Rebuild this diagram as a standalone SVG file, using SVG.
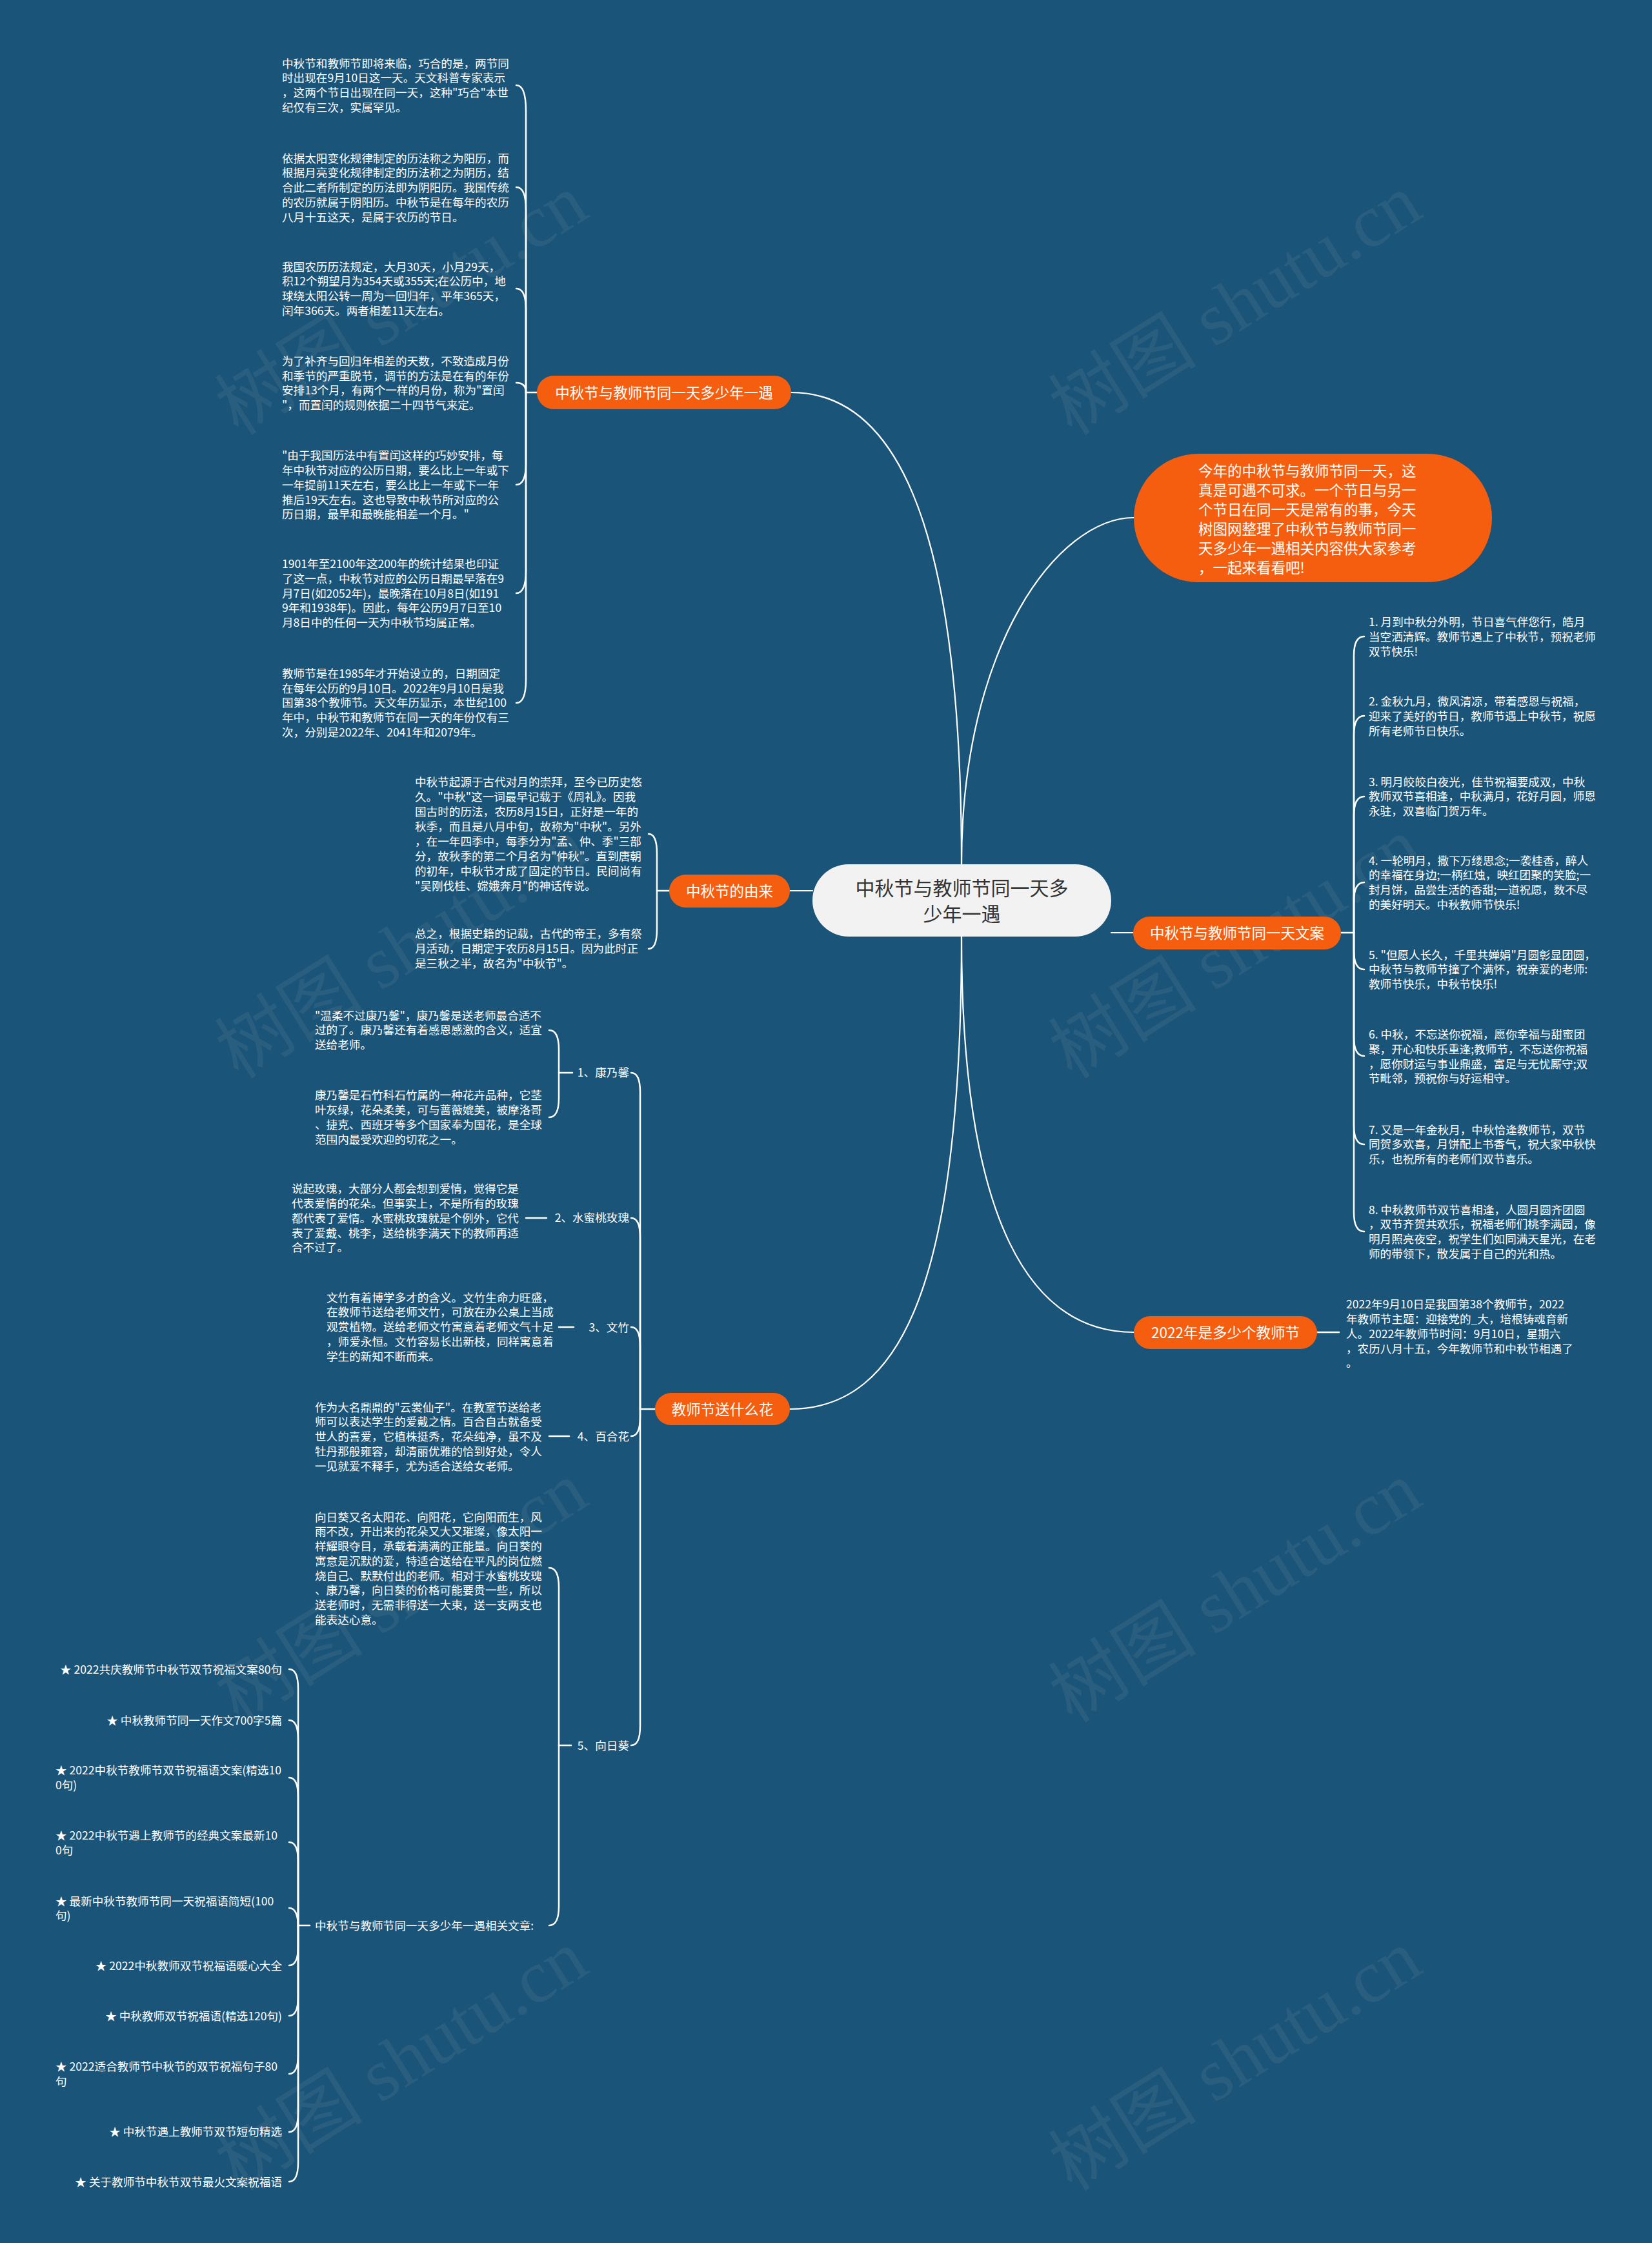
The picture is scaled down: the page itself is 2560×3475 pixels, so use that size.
<svg xmlns="http://www.w3.org/2000/svg" width="2560" height="3475" viewBox="0 0 2560 3475">
<style>
.t{font-family:"Noto Sans CJK SC","Noto Sans",sans-serif;font-size:17.6px;fill:#ffffff}
.e{text-anchor:end}
.nt{font-family:"Noto Sans CJK SC","Noto Sans",sans-serif;font-size:22.5px;fill:#ffffff;text-anchor:middle}
.bt{font-family:"Noto Sans CJK SC","Noto Sans",sans-serif;font-size:22.5px;fill:#ffffff}
.ct{font-family:"Noto Sans CJK SC","Noto Sans",sans-serif;font-size:30px;fill:#333333;text-anchor:middle}
.node{fill:#f55e0e}
.center{fill:#f2f2f2}
.edge{fill:none;stroke:#ffffff;stroke-width:2.5;stroke-linecap:round}
.main{fill:none;stroke:#ffffff;stroke-width:2.2;stroke-linecap:round}
.wm{font-family:"Liberation Serif","Noto Sans CJK SC",serif;font-size:115px;fill:#c0c0c0;opacity:0.09;text-anchor:middle}
</style>
<rect x="0" y="0" width="2560" height="3475" fill="#1b5479"/>

<g id="watermarks">
<text class="wm" transform="translate(643,505) rotate(-32)">树图 shutu.cn</text>
<text class="wm" transform="translate(1935,505) rotate(-32)">树图 shutu.cn</text>
<text class="wm" transform="translate(643,1502) rotate(-32)">树图 shutu.cn</text>
<text class="wm" transform="translate(1935,1502) rotate(-32)">树图 shutu.cn</text>
<text class="wm" transform="translate(643,2500) rotate(-32)">树图 shutu.cn</text>
<text class="wm" transform="translate(1935,2500) rotate(-32)">树图 shutu.cn</text>
<text class="wm" transform="translate(643,3225) rotate(-32)">树图 shutu.cn</text>
<text class="wm" transform="translate(1935,3225) rotate(-32)">树图 shutu.cn</text>
</g>

<g id="connectors">
<path class="main" d="M1226,608 C1420,608 1490,900 1490,1339"/>
<path class="main" d="M1757,802 C1640,802 1490,1000 1490,1339"/>
<path class="main" d="M1224,1380 H1259"/>
<path class="main" d="M1722,1445 H1756"/>
<path class="main" d="M1490,1451 C1490,1900 1600,2064 1757,2064"/>
<path class="main" d="M1490,1451 C1490,1980 1400,2183 1224,2183"/>
<path class="edge" d="M2041,2064 H2075"/>
<path class="edge" d="M832,608 H815"/>
<path class="edge" d="M815,608 V172 Q815,132 800,132"/>
<path class="edge" d="M815,608 V325 Q815,290 800,290"/>
<path class="edge" d="M815,608 V480 Q815,447 800,447"/>
<path class="edge" d="M815,608 Q815,593 800,593"/>
<path class="edge" d="M815,608 V718 Q815,751 800,751"/>
<path class="edge" d="M815,608 V884 Q815,919 800,919"/>
<path class="edge" d="M815,608 V1053 Q815,1089 800,1089"/>
<path class="edge" d="M1037,1380 H1018"/>
<path class="edge" d="M1018,1380 V1322 Q1018,1292 1005,1292"/>
<path class="edge" d="M1018,1380 V1440 Q1018,1470 1005,1470"/>
<path class="edge" d="M2078,1445 H2098"/>
<path class="edge" d="M2098,1445 V1016 Q2098,986 2114,986"/>
<path class="edge" d="M2098,1445 V1139 Q2098,1109 2114,1109"/>
<path class="edge" d="M2098,1445 V1264 Q2098,1234 2114,1234"/>
<path class="edge" d="M2098,1445 V1397 Q2098,1367 2114,1367"/>
<path class="edge" d="M2098,1445 V1472 Q2098,1502 2114,1502"/>
<path class="edge" d="M2098,1445 V1606 Q2098,1636 2114,1636"/>
<path class="edge" d="M2098,1445 V1743 Q2098,1773 2114,1773"/>
<path class="edge" d="M2098,1445 V1878 Q2098,1908 2114,1908"/>
<path class="edge" d="M1015,2183 H992"/>
<path class="edge" d="M992,2183 V1692 Q992,1662 978,1662"/>
<path class="edge" d="M992,2183 V1917 Q992,1887 978,1887"/>
<path class="edge" d="M992,2183 V2086 Q992,2056 978,2056"/>
<path class="edge" d="M992,2183 V2195 Q992,2225 978,2225"/>
<path class="edge" d="M992,2183 V2674 Q992,2704 978,2704"/>
<path class="edge" d="M887,1662 H866"/>
<path class="edge" d="M866,1662 V1626 Q866,1596 851,1596"/>
<path class="edge" d="M866,1662 V1701 Q866,1731 851,1731"/>
<path class="edge" d="M847,1887 H815"/>
<path class="edge" d="M889,2056 H866"/>
<path class="edge" d="M882,2225 H851"/>
<path class="edge" d="M885,2704 H866"/>
<path class="edge" d="M866,2704 V2459 Q866,2429 851,2429"/>
<path class="edge" d="M866,2704 V2953 Q866,2983 851,2983"/>
<path class="edge" d="M480,2983 H462"/>
<path class="edge" d="M462,2983 V2616 Q462,2586 448,2586"/>
<path class="edge" d="M462,2983 V2695 Q462,2665 448,2665"/>
<path class="edge" d="M462,2983 V2784 Q462,2754 448,2754"/>
<path class="edge" d="M462,2983 V2884 Q462,2854 448,2854"/>
<path class="edge" d="M462,2983 V2986 Q462,2956 448,2956"/>
<path class="edge" d="M462,2983 V3015 Q462,3045 448,3045"/>
<path class="edge" d="M462,2983 V3093 Q462,3123 448,3123"/>
<path class="edge" d="M462,2983 V3183 Q462,3213 448,3213"/>
<path class="edge" d="M462,2983 V3273 Q462,3303 448,3303"/>
<path class="edge" d="M462,2983 V3350 Q462,3380 448,3380"/>
</g>

<g id="center">
<rect class="center" x="1259" y="1339" width="463" height="112" rx="56"/>
<text class="ct"><tspan x="1490.5" y="1387">中秋节与教师节同一天多</tspan><tspan x="1490.5" y="1427">少年一遇</tspan></text>
</g>

<g id="node-intro">
<rect class="node" x="1757" y="703" width="555" height="199" rx="99.5"/>
<text class="bt"><tspan x="1857" y="738">今年的中秋节与教师节同一天，这</tspan><tspan x="1857" y="768">真是可遇不可求。一个节日与另一</tspan><tspan x="1857" y="798">个节日在同一天是常有的事，今天</tspan><tspan x="1857" y="828">树图网整理了中秋节与教师节同一</tspan><tspan x="1857" y="858">天多少年一遇相关内容供大家参考</tspan><tspan x="1857" y="888">，一起来看看吧!</tspan></text>
</g>

<g id="node-years">
<rect class="node" x="832" y="582" width="394" height="52" rx="26"/>
<text class="nt" x="1029" y="616.5">中秋节与教师节同一天多少年一遇</text>
</g>
<g id="years-1"><text class="t"><tspan x="437" y="104.6">中秋节和教师节即将来临，巧合的是，两节同</tspan><tspan x="437" y="127.3">时出现在9月10日这一天。天文科普专家表示</tspan><tspan x="437" y="150">，这两个节日出现在同一天，这种"巧合"本世</tspan><tspan x="437" y="172.7">纪仅有三次，实属罕见。</tspan></text></g>
<g id="years-2"><text class="t"><tspan x="437" y="251.7">依据太阳变化规律制定的历法称之为阳历，而</tspan><tspan x="437" y="274.4">根据月亮变化规律制定的历法称之为阴历，结</tspan><tspan x="437" y="297.1">合此二者所制定的历法即为阴阳历。我国传统</tspan><tspan x="437" y="319.8">的农历就属于阴阳历。中秋节是在每年的农历</tspan><tspan x="437" y="342.5">八月十五这天，是属于农历的节日。</tspan></text></g>
<g id="years-3"><text class="t"><tspan x="437" y="419.6">我国农历历法规定，大月30天，小月29天，</tspan><tspan x="437" y="442.3">积12个朔望月为354天或355天;在公历中，地</tspan><tspan x="437" y="465">球绕太阳公转一周为一回归年，平年365天，</tspan><tspan x="437" y="487.7">闰年366天。两者相差11天左右。</tspan></text></g>
<g id="years-4"><text class="t"><tspan x="437" y="566">为了补齐与回归年相差的天数，不致造成月份</tspan><tspan x="437" y="588.7">和季节的严重脱节，调节的方法是在有的年份</tspan><tspan x="437" y="611.4">安排13个月，有两个一样的月份，称为"置闰</tspan><tspan x="437" y="634.1">"，而置闰的规则依据二十四节气来定。</tspan></text></g>
<g id="years-5"><text class="t"><tspan x="437" y="712.4">"由于我国历法中有置闰这样的巧妙安排，每</tspan><tspan x="437" y="735.1">年中秋节对应的公历日期，要么比上一年或下</tspan><tspan x="437" y="757.8">一年提前11天左右，要么比上一年或下一年</tspan><tspan x="437" y="780.5">推后19天左右。这也导致中秋节所对应的公</tspan><tspan x="437" y="803.2">历日期，最早和最晚能相差一个月。"</tspan></text></g>
<g id="years-6"><text class="t"><tspan x="437" y="880.3">1901年至2100年这200年的统计结果也印证</tspan><tspan x="437" y="903">了这一点，中秋节对应的公历日期最早落在9</tspan><tspan x="437" y="925.7">月7日(如2052年)，最晚落在10月8日(如191</tspan><tspan x="437" y="948.4">9年和1938年)。因此，每年公历9月7日至10</tspan><tspan x="437" y="971.1">月8日中的任何一天为中秋节均属正常。</tspan></text></g>
<g id="years-7"><text class="t"><tspan x="437" y="1049.9">教师节是在1985年才开始设立的，日期固定</tspan><tspan x="437" y="1072.6">在每年公历的9月10日。2022年9月10日是我</tspan><tspan x="437" y="1095.3">国第38个教师节。天文年历显示，本世纪100</tspan><tspan x="437" y="1118">年中，中秋节和教师节在同一天的年份仅有三</tspan><tspan x="437" y="1140.7">次，分别是2022年、2041年和2079年。</tspan></text></g>

<g id="node-origin">
<rect class="node" x="1037" y="1355" width="187" height="51" rx="25.5"/>
<text class="nt" x="1130.5" y="1389">中秋节的由来</text>
</g>
<g id="origin-1"><text class="t"><tspan x="643" y="1218.4">中秋节起源于古代对月的崇拜，至今已历史悠</tspan><tspan x="643" y="1241.3">久。"中秋"这一词最早记载于《周礼》。因我</tspan><tspan x="643" y="1264.2">国古时的历法，农历8月15日，正好是一年的</tspan><tspan x="643" y="1287.1">秋季，而且是八月中旬，故称为"中秋"。另外</tspan><tspan x="643" y="1310">，在一年四季中，每季分为"孟、仲、季"三部</tspan><tspan x="643" y="1332.9">分，故秋季的第二个月名为"仲秋"。直到唐朝</tspan><tspan x="643" y="1355.8">的初年，中秋节才成了固定的节日。民间尚有</tspan><tspan x="643" y="1378.7">"吴刚伐桂、嫦娥奔月"的神话传说。</tspan></text></g>
<g id="origin-2"><text class="t"><tspan x="643" y="1453.4">总之，根据史籍的记载，古代的帝王，多有祭</tspan><tspan x="643" y="1476.3">月活动，日期定于农历8月15日。因为此时正</tspan><tspan x="643" y="1499.2">是三秋之半，故名为"中秋节"。</tspan></text></g>

<g id="node-wishes">
<rect class="node" x="1756" y="1420" width="322" height="51" rx="25.5"/>
<text class="nt" x="1917" y="1454">中秋节与教师节同一天文案</text>
</g>
<g id="wish-1"><text class="t"><tspan x="2121" y="970.2">1. 月到中秋分外明，节日喜气伴您行，皓月</tspan><tspan x="2121" y="992.9">当空洒清辉。教师节遇上了中秋节，预祝老师</tspan><tspan x="2121" y="1015.6">双节快乐!</tspan></text></g>
<g id="wish-2"><text class="t"><tspan x="2121" y="1093.2">2. 金秋九月，微风清凉，带着感恩与祝福，</tspan><tspan x="2121" y="1115.9">迎来了美好的节日，教师节遇上中秋节，祝愿</tspan><tspan x="2121" y="1138.6">所有老师节日快乐。</tspan></text></g>
<g id="wish-3"><text class="t"><tspan x="2121" y="1217.7">3. 明月皎皎白夜光，佳节祝福要成双，中秋</tspan><tspan x="2121" y="1240.4">教师双节喜相逢，中秋满月，花好月圆，师恩</tspan><tspan x="2121" y="1263.1">永驻，双喜临门贺万年。</tspan></text></g>
<g id="wish-4"><text class="t"><tspan x="2121" y="1339.7">4. 一轮明月，撒下万缕思念;一袭桂香，醉人</tspan><tspan x="2121" y="1362.4">的幸福在身边;一柄红烛，映红团聚的笑脸;一</tspan><tspan x="2121" y="1385.1">封月饼，品尝生活的香甜;一道祝愿，数不尽</tspan><tspan x="2121" y="1407.8">的美好明天。中秋教师节快乐!</tspan></text></g>
<g id="wish-5"><text class="t"><tspan x="2121" y="1485.7">5. "但愿人长久，千里共婵娟"月圆彰显团圆，</tspan><tspan x="2121" y="1508.4">中秋节与教师节撞了个满怀，祝亲爱的老师:</tspan><tspan x="2121" y="1531.1">教师节快乐，中秋节快乐!</tspan></text></g>
<g id="wish-6"><text class="t"><tspan x="2121" y="1609.2">6. 中秋，不忘送你祝福，愿你幸福与甜蜜团</tspan><tspan x="2121" y="1631.9">聚，开心和快乐重逢;教师节，不忘送你祝福</tspan><tspan x="2121" y="1654.6">，愿你财运与事业鼎盛，富足与无忧厮守;双</tspan><tspan x="2121" y="1677.3">节毗邻，预祝你与好运相守。</tspan></text></g>
<g id="wish-7"><text class="t"><tspan x="2121" y="1756.7">7. 又是一年金秋月，中秋恰逢教师节，双节</tspan><tspan x="2121" y="1779.4">同贺多欢喜，月饼配上书香气，祝大家中秋快</tspan><tspan x="2121" y="1802.1">乐，也祝所有的老师们双节喜乐。</tspan></text></g>
<g id="wish-8"><text class="t"><tspan x="2121" y="1880.7">8. 中秋教师节双节喜相逢，人圆月圆齐团圆</tspan><tspan x="2121" y="1903.4">，双节齐贺共欢乐，祝福老师们桃李满园，像</tspan><tspan x="2121" y="1926.1">明月照亮夜空，祝学生们如同满天星光，在老</tspan><tspan x="2121" y="1948.8">师的带领下，散发属于自己的光和热。</tspan></text></g>

<g id="node-2022">
<rect class="node" x="1757" y="2039" width="284" height="51" rx="25.5"/>
<text class="nt" x="1899" y="2073">2022年是多少个教师节</text>
</g>
<g id="text-2022"><text class="t"><tspan x="2086" y="2027.4">2022年9月10日是我国第38个教师节，2022</tspan><tspan x="2086" y="2050.1">年教师节主题：迎接党的_大，培根铸魂育新</tspan><tspan x="2086" y="2072.8">人。2022年教师节时间：9月10日，星期六</tspan><tspan x="2086" y="2095.5">，农历八月十五，今年教师节和中秋节相遇了</tspan><tspan x="2086" y="2118.2">。</tspan></text></g>

<g id="node-flowers">
<rect class="node" x="1015" y="2158" width="209" height="50" rx="25"/>
<text class="nt" x="1119.5" y="2191.5">教师节送什么花</text>
</g>
<g id="flower-1"><text class="t e" x="975" y="1668.4">1、康乃馨</text></g>
<g id="flower-1a"><text class="t"><tspan x="488" y="1579.7">"温柔不过康乃馨"，康乃馨是送老师最合适不</tspan><tspan x="488" y="1602.4">过的了。康乃馨还有着感恩感激的含义，适宜</tspan><tspan x="488" y="1625.1">送给老师。</tspan></text></g>
<g id="flower-1b"><text class="t"><tspan x="488" y="1703.4">康乃馨是石竹科石竹属的一种花卉品种，它茎</tspan><tspan x="488" y="1726.1">叶灰绿，花朵柔美，可与蔷薇媲美，被摩洛哥</tspan><tspan x="488" y="1748.8">、捷克、西班牙等多个国家奉为国花，是全球</tspan><tspan x="488" y="1771.5">范围内最受欢迎的切花之一。</tspan></text></g>
<g id="flower-2"><text class="t e" x="975" y="1893.4">2、水蜜桃玫瑰</text></g>
<g id="flower-2a"><text class="t"><tspan x="452" y="1848.4">说起玫瑰，大部分人都会想到爱情，觉得它是</tspan><tspan x="452" y="1871.1">代表爱情的花朵。但事实上，不是所有的玫瑰</tspan><tspan x="452" y="1893.8">都代表了爱情。水蜜桃玫瑰就是个例外，它代</tspan><tspan x="452" y="1916.5">表了爱戴、桃李，送给桃李满天下的教师再适</tspan><tspan x="452" y="1939.2">合不过了。</tspan></text></g>
<g id="flower-3"><text class="t e" x="975" y="2063.4">3、文竹</text></g>
<g id="flower-3a"><text class="t"><tspan x="506" y="2016.7">文竹有着博学多才的含义。文竹生命力旺盛，</tspan><tspan x="506" y="2039.4">在教师节送给老师文竹，可放在办公桌上当成</tspan><tspan x="506" y="2062.1">观赏植物。送给老师文竹寓意着老师文气十足</tspan><tspan x="506" y="2084.8">，师爱永恒。文竹容易长出新枝，同样寓意着</tspan><tspan x="506" y="2107.5">学生的新知不断而来。</tspan></text></g>
<g id="flower-4"><text class="t e" x="975" y="2231.7">4、百合花</text></g>
<g id="flower-4a"><text class="t"><tspan x="488" y="2186.7">作为大名鼎鼎的"云裳仙子"。在教室节送给老</tspan><tspan x="488" y="2209.4">师可以表达学生的爱戴之情。百合自古就备受</tspan><tspan x="488" y="2232.1">世人的喜爱，它植株挺秀，花朵纯净，虽不及</tspan><tspan x="488" y="2254.8">牡丹那般雍容，却清丽优雅的恰到好处，令人</tspan><tspan x="488" y="2277.5">一见就爱不释手，尤为适合送给女老师。</tspan></text></g>
<g id="flower-5"><text class="t e" x="975" y="2710.7">5、向日葵</text></g>
<g id="flower-5a"><text class="t"><tspan x="488" y="2356.7">向日葵又名太阳花、向阳花，它向阳而生，风</tspan><tspan x="488" y="2379.4">雨不改，开出来的花朵又大又璀璨，像太阳一</tspan><tspan x="488" y="2402.1">样耀眼夺目，承载着满满的正能量。向日葵的</tspan><tspan x="488" y="2424.8">寓意是沉默的爱，特适合送给在平凡的岗位燃</tspan><tspan x="488" y="2447.5">烧自己、默默付出的老师。相对于水蜜桃玫瑰</tspan><tspan x="488" y="2470.2">、康乃馨，向日葵的价格可能要贵一些，所以</tspan><tspan x="488" y="2492.9">送老师时，无需非得送一大束，送一支两支也</tspan><tspan x="488" y="2515.6">能表达心意。</tspan></text></g>
<g id="related"><text class="t" x="488" y="2989.7">中秋节与教师节同一天多少年一遇相关文章:</text></g>

<g id="link-1"><text class="t e" x="437" y="2592.7">★ 2022共庆教师节中秋节双节祝福文案80句</text></g>
<g id="link-2"><text class="t e" x="437" y="2671.7">★ 中秋教师节同一天作文700字5篇</text></g>
<g id="link-3"><text class="t"><tspan x="86" y="2749.4">★ 2022中秋节教师节双节祝福语文案(精选10</tspan><tspan x="86" y="2772.1">0句)</tspan></text></g>
<g id="link-4"><text class="t"><tspan x="86" y="2850">★ 2022中秋节遇上教师节的经典文案最新10</tspan><tspan x="86" y="2872.7">0句</tspan></text></g>
<g id="link-5"><text class="t"><tspan x="86" y="2951.7">★ 最新中秋节教师节同一天祝福语简短(100</tspan><tspan x="86" y="2974.4">句)</tspan></text></g>
<g id="link-6"><text class="t e" x="437" y="3051.7">★ 2022中秋教师双节祝福语暖心大全</text></g>
<g id="link-7"><text class="t e" x="437" y="3130">★ 中秋教师双节祝福语(精选120句)</text></g>
<g id="link-8"><text class="t"><tspan x="86" y="3208.4">★ 2022适合教师节中秋节的双节祝福句子80</tspan><tspan x="86" y="3231.1">句</tspan></text></g>
<g id="link-9"><text class="t e" x="437" y="3309.4">★ 中秋节遇上教师节双节短句精选</text></g>
<g id="link-10"><text class="t e" x="437" y="3386.7">★ 关于教师节中秋节双节最火文案祝福语</text></g>
</svg>
